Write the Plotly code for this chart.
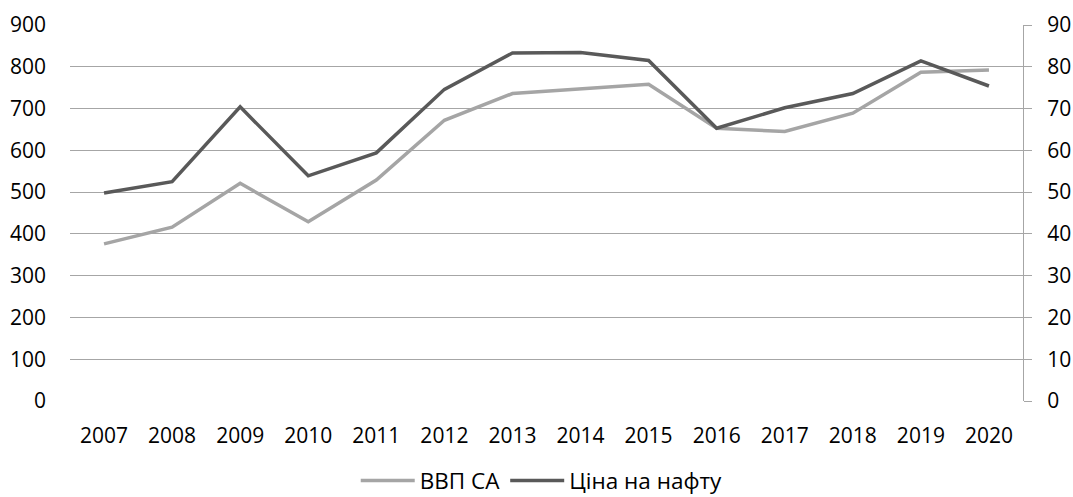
import plotly.graph_objects as go

years = ["2007", "2008", "2009", "2010", "2011", "2012", "2013", "2014",
         "2015", "2016", "2017", "2018", "2019", "2020"]
gdp_sa = [376, 416, 521, 429, 529, 672, 736, 747, 758, 653, 645, 689, 787, 792]
oil_price = [49.8, 52.5, 70.4, 53.9, 59.4, 74.6, 83.3, 83.4, 81.5, 65.3, 70.2, 73.6, 81.4, 75.4]

FONT = "Open Sans"
FS = 21

fig = go.Figure()
fig.add_trace(go.Scatter(
    x=years, y=gdp_sa, name="ВВП СА", mode="lines",
    line=dict(color="#A5A5A5", width=3.5), yaxis="y"))
fig.add_trace(go.Scatter(
    x=years, y=oil_price, name="Ціна на нафту", mode="lines",
    line=dict(color="#595959", width=3.5), yaxis="y2"))

fig.update_layout(
    width=1073, height=497,
    margin=dict(l=70, r=50, t=25, b=96, autoexpand=False),
    paper_bgcolor="white", plot_bgcolor="white",
    font=dict(family=FONT, size=FS, color="#000000"),
    showlegend=True,
    legend=dict(orientation="h", x=0.495, xanchor="center",
                yref="paper", y=-0.155, yanchor="top",
                font=dict(family=FONT, size=22.5, color="#000000"),
                itemwidth=54, traceorder="normal"),
    xaxis=dict(type="category", range=[-0.5, 13.5], showgrid=False,
               showline=False, ticks="", automargin=False,
               ticklabelstandoff=20, tickfont=dict(size=FS)),
    yaxis=dict(range=[0, 900], dtick=100, showgrid=True, gridcolor="#A6A6A6",
               gridwidth=1, zeroline=False, showline=False, ticks="",
               automargin=False, ticklabelstandoff=23, tickfont=dict(size=FS)),
    yaxis2=dict(range=[0, 90], dtick=10, overlaying="y", side="right",
                showgrid=False, zeroline=False, showline=True, linecolor="#A6A6A6",
                linewidth=1, ticks="outside", ticklen=8, tickcolor="#A6A6A6",
                automargin=False, ticklabelstandoff=11, tickfont=dict(size=FS)),
)

# remove the default 8px page margin so the figure fills the window exactly
fig.write_html("out.html", config={"displayModeBar": False},
               post_script="document.body.style.margin='0';document.body.style.overflow='hidden';")
